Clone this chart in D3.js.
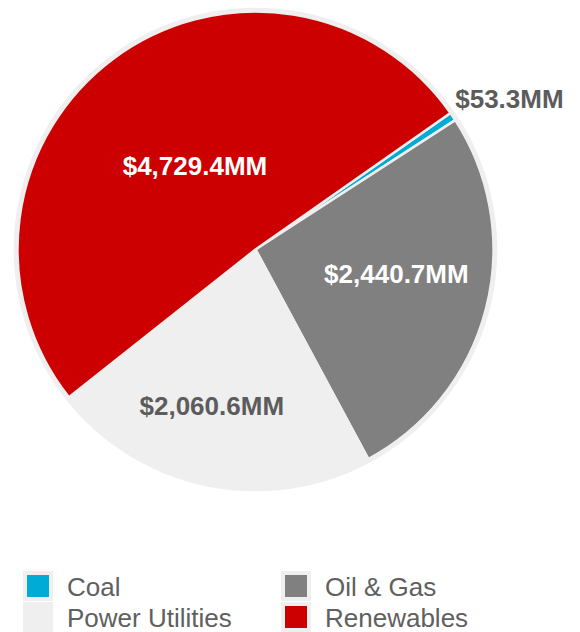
<!DOCTYPE html>
<html>
<head>
<meta charset="utf-8">
<script src="https://cdn.jsdelivr.net/npm/d3@7/dist/d3.min.js"></script>
<style>
  html, body { margin: 0; padding: 0; background: #fff; }
  svg { display: block; font-family: "Liberation Sans", Arial, Helvetica, sans-serif; }
</style>
</head>
<body>
<svg id="chart" width="580" height="632"></svg>
<script>
// Investment by sector, in $MM
const categories = ["Coal", "Oil & Gas", "Power Utilities", "Renewables"];
const values = [53.3, 2440.7, 2060.6, 4729.4];
const valueLabels = ["$53.3MM", "$2,440.7MM", "$2,060.6MM", "$4,729.4MM"];
const colors = ["#00acd6", "#808080", "#efefef", "#cc0000"];

const W = 580, H = 632;
const cx = 255.5, cy = 249.5, R = 238;
const rim = "#efefef";
const textGray = "#5c5c5c";

// label placement per slice: radius from centre, angular nudge (deg), colour, anchor
const labelLayout = {
  "Coal":            { r: R + 12, nudge: -3,  fill: textGray, anchor: "start" },
  "Oil & Gas":       { r: 143,    nudge: -4.5, fill: "#ffffff", anchor: "middle" },
  "Power Utilities": { r: 162,    nudge: 4,   fill: textGray, anchor: "middle" },
  "Renewables":      { r: 103,    nudge: 0.7, fill: "#ffffff", anchor: "middle" }
};

const svg = d3.select("#chart");
const data = categories.map((c, i) => ({ name: c, value: values[i], label: valueLabels[i], color: colors[i] }));

const color = d3.scaleOrdinal().domain(categories).range(colors);

const start = 55 * Math.PI / 180;
const pie = d3.pie().sort(null).value(d => d.value)
  .startAngle(start).endAngle(start + 2 * Math.PI);
const arcs = pie(data);

const arc = d3.arc().innerRadius(0).outerRadius(R);

const g = svg.append("g").attr("transform", `translate(${cx},${cy})`);

// light rim behind the pie
g.append("circle").attr("r", R + 3.8).attr("fill", rim);

g.selectAll("path.slice")
  .data(arcs)
  .join("path")
  .attr("class", "slice")
  .attr("d", arc)
  .attr("fill", d => color(d.data.name))
  .attr("stroke", rim)
  .attr("stroke-width", 2.5)
  .attr("stroke-linejoin", "round");

// value labels
g.selectAll("text.value")
  .data(arcs)
  .join("text")
  .attr("class", "value")
  .each(function (d) {
    const L = labelLayout[d.data.name];
    const a = (d.startAngle + d.endAngle) / 2 + L.nudge * Math.PI / 180;
    const x = Math.sin(a) * L.r;
    const y = -Math.cos(a) * L.r;
    d3.select(this)
      .attr("x", x)
      .attr("y", y)
      .attr("dy", "0.35em")
      .attr("text-anchor", L.anchor)
      .attr("fill", L.fill);
  })
  .style("font-size", "26px")
  .style("font-weight", "bold")
  .text(d => d.data.label);

// legend: two columns, two rows
const col = d3.scaleOrdinal().domain([0, 1]).range([23, 281]);
const row = d3.scaleOrdinal().domain([0, 1]).range([571, 602]);

const legend = svg.append("g").attr("class", "legend")
  .selectAll("g")
  .data(data)
  .join("g")
  .attr("transform", (d, i) => `translate(${col(i % 2)},${row(Math.floor(i / 2))})`);

legend.append("rect")
  .attr("width", 30).attr("height", 30)
  .attr("fill", rim);
legend.append("rect")
  .attr("x", 4).attr("y", 4)
  .attr("width", 22).attr("height", 22)
  .attr("fill", d => color(d.name));
legend.append("text")
  .attr("x", 44)
  .attr("y", 25)
  .attr("fill", "#606060")
  .style("font-size", "26px")
  .text(d => d.name);
</script>
</body>
</html>
